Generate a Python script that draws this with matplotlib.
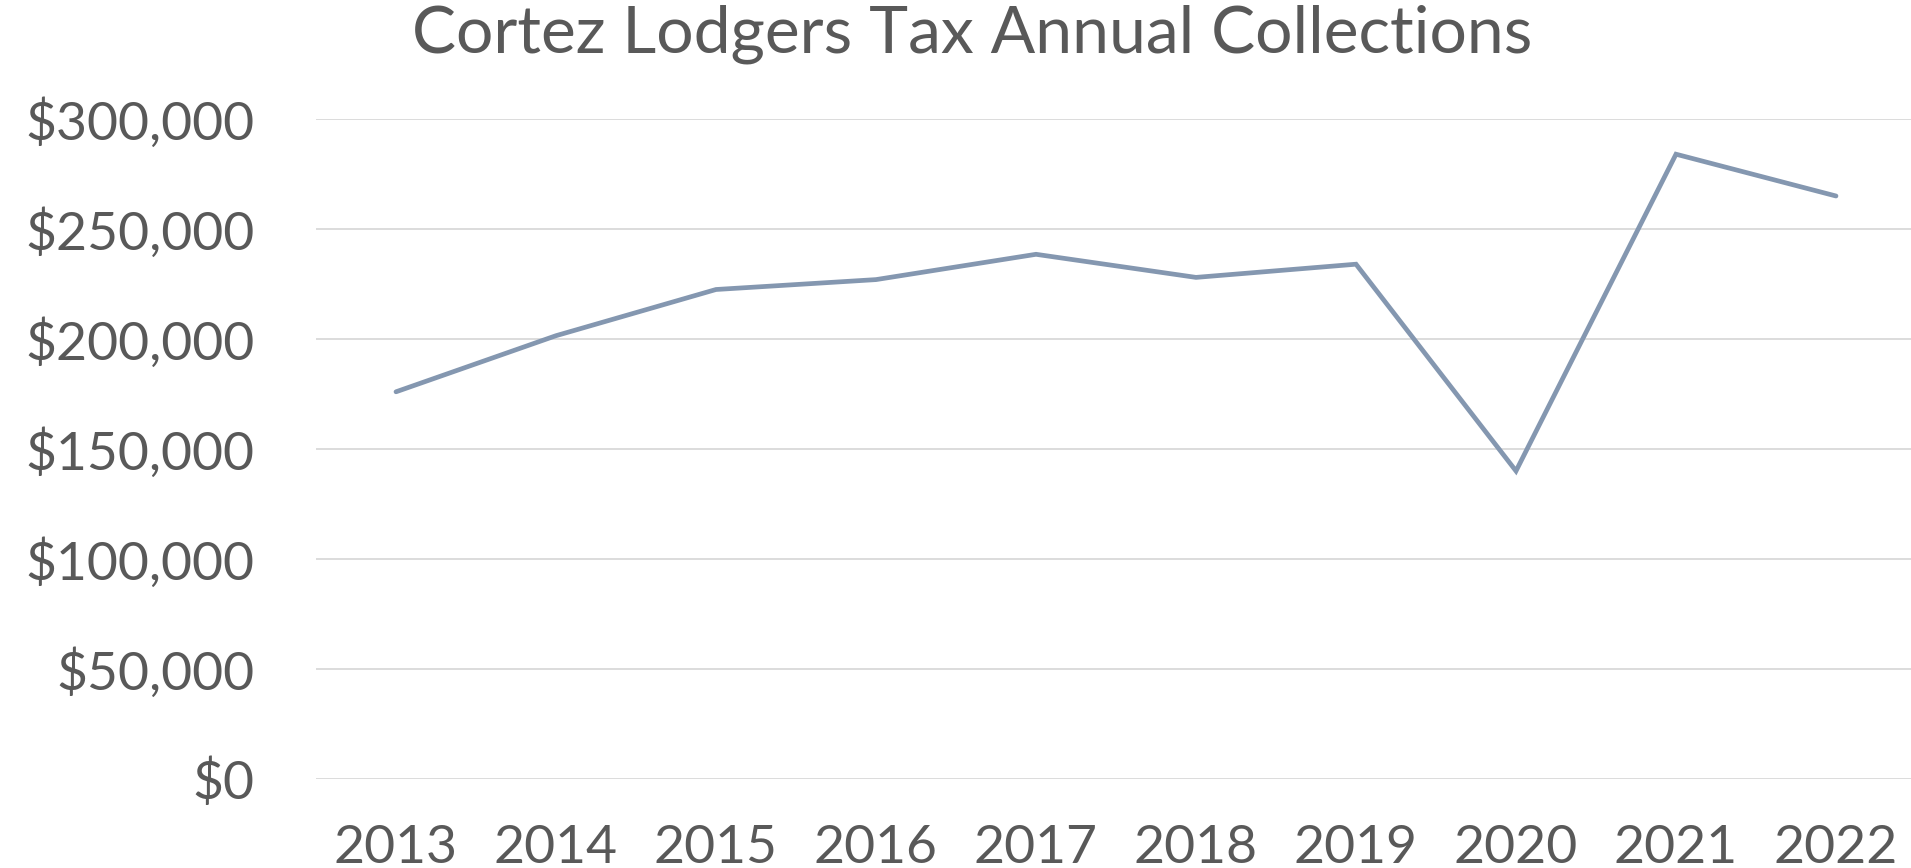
import matplotlib
matplotlib.use("Agg")
import matplotlib.pyplot as plt
from matplotlib.ticker import FuncFormatter

years = ["2013", "2014", "2015", "2016", "2017", "2018", "2019", "2020", "2021", "2022"]
collections = [176000, 201500, 222500, 227000, 238500, 228000, 234000, 140000, 284000, 265000]
yticks = [0, 50000, 100000, 150000, 200000, 250000, 300000]

W, H = 1911, 868
fig = plt.figure(figsize=(W / 100, H / 100), dpi=100)
plt.rcParams['font.family'] = ['Lato', 'DejaVu Sans']
txt = '#595959'

left, right, top, bottom = 316, 1916, 119, 779
ax = fig.add_axes([left / W, 1 - bottom / H, (right - left) / W, (bottom - top) / H])
x = list(range(len(years)))
ax.plot(x, collections, color='#8497B0', lw=3.4, solid_capstyle='round', solid_joinstyle='miter', zorder=3)
ax.set_xlim(-0.5, len(years) - 0.5)
ax.set_ylim(0, 300000)
ax.set_yticks(yticks)
ax.yaxis.set_major_formatter(FuncFormatter(lambda v, p: "${:,.0f}".format(v)))
ax.set_xticks(x)
ax.set_xticklabels(years)
ax.grid(axis='y', color='#D9D9D9', lw=1.3)
ax.set_axisbelow(True)
for s in ax.spines.values():
    s.set_visible(False)
ax.tick_params(axis='both', length=0, labelsize=38.5, colors=txt)
ax.tick_params(axis='y', pad=44)
ax.tick_params(axis='x', pad=33)

fig.text(972 / W, 1 - 53 / H, "Cortez Lodgers Tax Annual Collections", ha='center', va='baseline',
         fontsize=47.5, color=txt)
fig.savefig("out.png", dpi=100)
